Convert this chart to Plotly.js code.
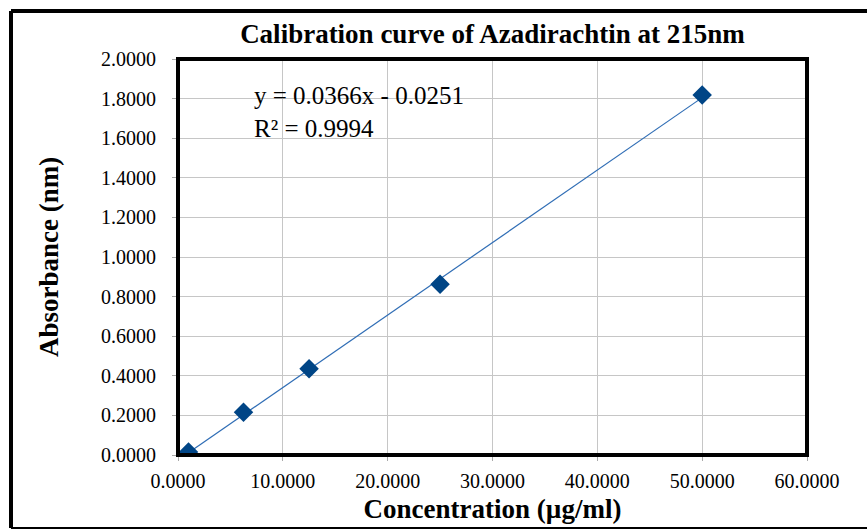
<!DOCTYPE html>
<html>
<head>
<meta charset="utf-8">
<script src="https://cdn.plot.ly/plotly-3.0.1.min.js"></script>
<style>
html,body{margin:0;padding:0;background:#fff;}
#chart{width:867px;height:531px;}
</style>
</head>
<body>
<div id="chart"></div>
<script>
// Data
const concentration = [1.0, 6.25, 12.5, 25.0, 50.0];
const absorbance = [0.015, 0.216, 0.435, 0.862, 1.818];
// Trendline reported on the chart
const slope = [0.0366];
const intercept = [-0.0251];
const trendX = [1.0, 50.0];
const xTicks = [0, 10, 20, 30, 40, 50, 60];
const xTickText = ['0.0000','10.0000','20.0000','30.0000','40.0000','50.0000','60.0000'];
const yTicks = [0, 0.2, 0.4, 0.6, 0.8, 1.0, 1.2, 1.4, 1.6, 1.8, 2.0];
const yTickText = ['0.0000','0.2000','0.4000','0.6000','0.8000','1.0000','1.2000','1.4000','1.6000','1.8000','2.0000'];
const titleText = 'Calibration curve of Azadirachtin at 215nm';
const xTitle = 'Concentration (µg/ml)';
const yTitle = 'Absorbance (nm)';
const eqText = 'y = 0.0366x - 0.0251<br>R² = 0.9994';

const trendY = trendX.map(x => slope[0]*x + intercept[0]);
const serif = 'Liberation Serif';

const traces = [
  {x: trendX, y: trendY, type:'scatter', mode:'lines',
   line:{color:'#2f6db5', width:1.2}, hoverinfo:'skip'},
  {x: concentration, y: absorbance, type:'scatter', mode:'markers',
   marker:{symbol:'diamond', size:15, color:'#004586'}}
];

const L = 178, R = 807, T = 59, B = 455;
const px = v => (v - L)/(R - L);
const py = v => (B - v)/(B - T);

const layout = {
  width:867, height:531,
  margin:{l:L, r:867-R, t:T, b:531-B},
  paper_bgcolor:'#fff', plot_bgcolor:'#fff',
  showlegend:false,
  font:{family:serif, color:'#000', size:20},
  title:{text:'<b>'+titleText+'</b>', font:{family:serif, size:27, color:'#000'},
         x:0.5, xref:'paper', xanchor:'center', y:1-34/531, yanchor:'middle'},
  xaxis:{range:[0,60], tickvals:xTicks, ticktext:xTickText,
         showgrid:true, gridcolor:'#c6c6c6', gridwidth:1,
         zeroline:false, showline:true, linecolor:'#aaaaaa',
         ticks:'outside', ticklen:5, tickcolor:'#aaaaaa',
         ticklabelstandoff:3,
         tickfont:{family:serif, size:20, color:'#000'},
         title:{text:'<b>'+xTitle+'</b>', font:{family:serif, size:27, color:'#000'}, standoff:8}},
  yaxis:{range:[0,2], tickvals:yTicks, ticktext:yTickText,
         showgrid:true, gridcolor:'#c6c6c6', gridwidth:1,
         zeroline:false, showline:true, linecolor:'#aaaaaa',
         ticks:'outside', ticklen:5, tickcolor:'#aaaaaa',
         ticklabelstandoff:12,
         tickfont:{family:serif, size:20, color:'#000'},
         title:{text:'<b>'+yTitle+'</b>', font:{family:serif, size:27, color:'#000'}, standoff:34}},
  annotations:[
    {xref:'paper', yref:'paper', x:px(252), y:py(80), xanchor:'left', yanchor:'top',
     text:eqText, showarrow:false, align:'left',
     font:{family:serif, size:25, color:'#000'}}
  ],
  shapes:[
    {type:'rect', xref:'paper', yref:'paper', x0:0, x1:1, y0:0, y1:1,
     line:{color:'#000', width:4}},
    {type:'line', xref:'paper', yref:'paper', x0:px(11), x1:px(880), y0:py(11), y1:py(11),
     line:{color:'#000', width:4}},
    {type:'line', xref:'paper', yref:'paper', x0:px(11), x1:px(11), y0:py(11), y1:py(528),
     line:{color:'#000', width:4}},
    {type:'line', xref:'paper', yref:'paper', x0:px(11), x1:px(880), y0:py(528), y1:py(528),
     line:{color:'#000', width:2}}
  ]
};

Plotly.newPlot('chart', traces, layout, {displayModeBar:false, staticPlot:true});
</script>
</body>
</html>
